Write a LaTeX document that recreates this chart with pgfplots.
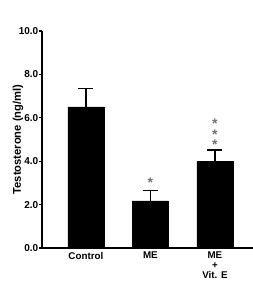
\documentclass[border=0pt]{standalone}
\usepackage{pgfplots}
\pgfplotsset{compat=1.18}
\usepackage{fontspec}
\setmainfont{Liberation Sans}
\begin{document}
\begin{tikzpicture}[x=1pt,y=1pt]
\path[use as bounding box] (0,0) rectangle (253,299);
\begin{axis}[
  at={(42pt,51pt)}, anchor=south west,
  scale only axis, width=211pt, height=217pt,
  xmin=-0.68, xmax=2.59, ymin=0, ymax=10,
  axis x line=bottom, axis y line=left,
  axis line style={line width=1.4pt, -},
  xtick={0,1,2}, xticklabels={Control, ME, {ME\\+\\Vit. E}},
  xticklabel style={align=center, font=\fontsize{9.8}{10}\selectfont\bfseries, inner sep=0pt, anchor=north, yshift=-1pt},
  x tick style={draw=none},
  ytick={0,2,4,6,8,10},
  y tick style={line width=1.2pt, black},
  tick align=outside, major tick length=3pt,
  yticklabel style={font=\fontsize{10}{10}\selectfont\bfseries, inner sep=0pt, anchor=east, xshift=-0.5pt},
  /pgf/number format/assume math mode=true,
  /pgf/number format/.cd, fixed, fixed zerofill, precision=1, /pgfplots/.cd,
  every axis y label/.style={at={(axis description cs:0,0.5)}, xshift=-24pt, rotate=90, anchor=center},
  ylabel={Testosterone (ng/ml)},
  ylabel style={font=\fontsize{11.2}{12}\selectfont\bfseries},
  clip=false,
]
\addplot[ybar, bar width=36pt, fill=black, draw=black,
  error bars/.cd, y dir=plus, y explicit,
  error bar style={line width=1.4pt, black},
  error mark options={rotate=90, mark size=7.5pt, line width=1.4pt, black}]
  coordinates {
  (0,6.50) +- (0,0.84)
  (1,2.17) +- (0,0.47)
  (2,3.98) +- (0,0.54)
};
\node[text=black!55, font=\fontsize{14}{8.5}\selectfont\bfseries, inner sep=0pt, anchor=base] at (axis cs:1,2.81) {*};
\node[text=black!55, font=\fontsize{14}{8.5}\selectfont\bfseries, inner sep=0pt, anchor=south, align=center] at (axis cs:2,4.52) {*\\*\\*};
\end{axis}
\end{tikzpicture}
\end{document}
